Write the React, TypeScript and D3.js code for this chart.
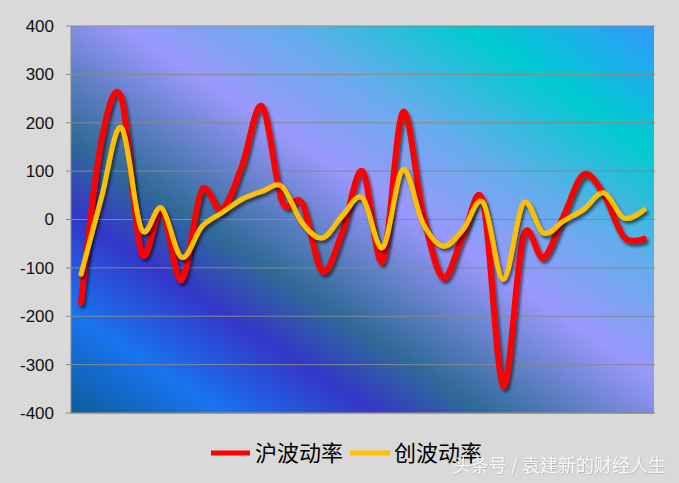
import React from "react";
import * as d3 from "d3";

const categories = ["1","2","3","4","5","6","7","8","9","10","11","12","13","14","15","16","17","18","19","20","21","22","23","24","25","26","27","28","29"];
const shanghai = [-172, 160, 252, -68, 18, -125, 60, 20, 110, 234, 38, 34, -107, -25, 100, -86, 222, 14, -120, -34, 36, -344, -34, -79, 7, 93, 52, -36, -40];
const chinext = [-113, 43, 190, -20, 24, -78, -15, 14, 42, 58, 68, -7, -38, 8, 45, -58, 103, -7, -55, -21, 35, -124, 34, -28, -3, 21, 55, 3, 20];
const yTicks = [-400, -300, -200, -100, 0, 100, 200, 300, 400];
const seriesNames = ["沪波动率", "创波动率"];

const W = 679, H = 483;
const L = 71, R = 654, T = 26, B = 413;

export default function App() {
  const x = d3.scalePoint<string>().domain(categories).range([L, R]).padding(0.5);
  const y = d3.scaleLinear().domain([-400, 400]).range([B, T]);
  const line = d3
    .line<number>()
    .x((_, i) => x(categories[i]) as number)
    .y((d) => y(d))
    .curve(d3.curveCardinal.tension(0));

  return (
    <svg width={W} height={H} style={{ position: "absolute", left: 0, top: 0, display: "block" }}>
      <defs>
        <linearGradient id="bg" gradientUnits="userSpaceOnUse" x1={185} y1={488} x2={540} y2={-49}>
          <stop offset="0" stopColor="#0d5c9c" />
          <stop offset="0.13" stopColor="#1874f0" />
          <stop offset="0.26" stopColor="#3436c8" />
          <stop offset="0.355" stopColor="#2f6a98" />
          <stop offset="0.545" stopColor="#9a98fc" />
          <stop offset="0.68" stopColor="#66acec" />
          <stop offset="0.84" stopColor="#00cad0" />
          <stop offset="1" stopColor="#3399ff" />
        </linearGradient>
        <filter id="shadow" x="-10%" y="-10%" width="120%" height="130%">
          <feDropShadow dx="2" dy="3" stdDeviation="1.5" floodColor="#000" floodOpacity="0.55" />
        </filter>
        <filter id="wm" x="-5%" y="-20%" width="110%" height="140%">
          <feDropShadow dx="0.5" dy="0.5" stdDeviation="0.6" floodColor="#000" floodOpacity="0.35" />
        </filter>
      </defs>
      <rect x={0} y={0} width={W} height={H} fill="#d9d9d9" />
      <rect x={L} y={T} width={R - L} height={B - T} fill="url(#bg)" />
      {yTicks.map((t) => (
        <g key={t}>
          <line x1={L - 5} x2={R + 1} y1={y(t)} y2={y(t)} stroke="#888" strokeWidth={1} />
          <text
            x={54}
            y={y(t)}
            dy="0.35em"
            textAnchor="end"
            fontFamily="'Liberation Sans', Arial, sans-serif"
            fontSize={17}
            fill="#111"
          >
            {t}
          </text>
        </g>
      ))}
      <line x1={L} x2={L} y1={T} y2={B} stroke="#888" strokeWidth={1} />
      <line x1={L} x2={R} y1={B} y2={B} stroke="#888" strokeWidth={1} />
      <path d={line(shanghai) || ""} fill="none" stroke="#ff0000" strokeWidth={6} strokeLinejoin="round" strokeLinecap="round" filter="url(#shadow)" />
      <path d={line(chinext) || ""} fill="none" stroke="#ffc000" strokeWidth={5} strokeLinejoin="round" strokeLinecap="round" filter="url(#shadow)" />
      <g fontFamily="'Noto Sans CJK SC', sans-serif" fontSize={22} fill="#000">
        <line x1={211} x2={250} y1={453} y2={453} stroke="#ff0000" strokeWidth={5} />
        <text x={255} y={453} dy="0.36em">{seriesNames[0]}</text>
        <line x1={350} x2={390} y1={453} y2={453} stroke="#ffc000" strokeWidth={5} />
        <text x={394} y={453} dy="0.36em">{seriesNames[1]}</text>
      </g>
      <text
        x={666}
        y={466}
        dy="0.35em"
        textAnchor="end"
        fontFamily="'Noto Sans CJK SC', sans-serif"
        fontSize={18}
        fill="#ffffff"
        fillOpacity={0.85}
        filter="url(#wm)"
      >
        头条号 / 袁建新的财经人生
      </text>
    </svg>
  );
}
